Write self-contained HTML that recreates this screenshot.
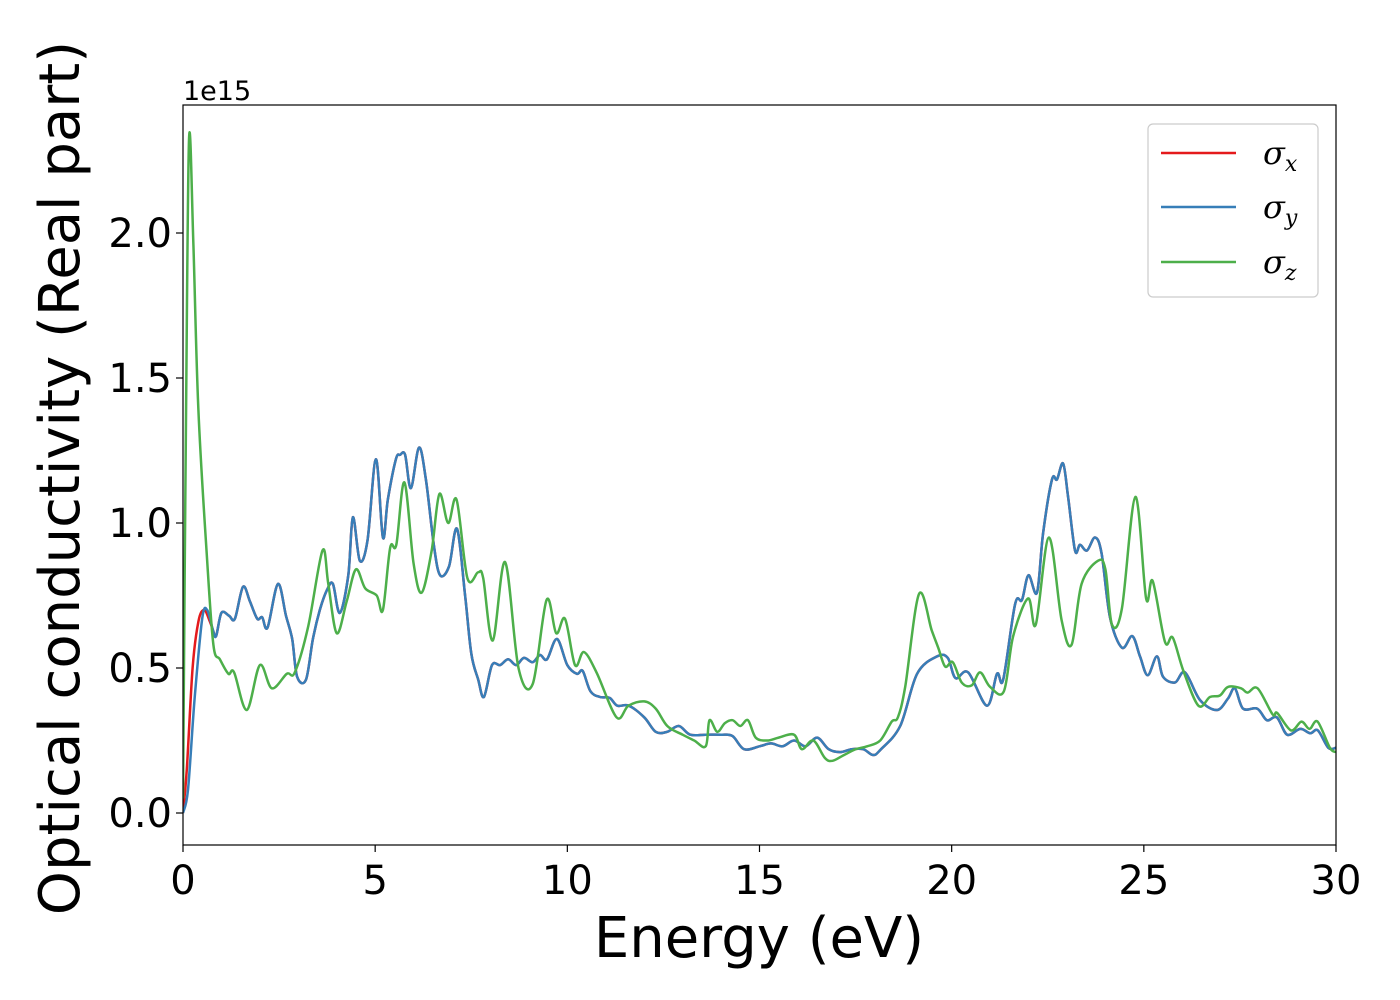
<!DOCTYPE html>
<html><head><meta charset="utf-8"><style>
body{margin:0;background:#fff;}
svg{display:block;font-family:"DejaVu Sans","Liberation Sans",sans-serif;}
</style></head><body>
<svg id="chart" width="1400" height="1000" viewBox="0 0 1400 1000">
<rect width="1400" height="1000" fill="#fff"/>
<g id="plot"></g>
<g id="axes"></g>
</svg>
<script>
const xTicks=[0,5,10,15,20,25,30];
const yTicks=[0.0,0.5,1.0,1.5,2.0];
const yTickLabels=["0.0","0.5","1.0","1.5","2.0"];
const blueE=[0,.13,.3,.5,.63,.78,.86,1.0,1.2,1.35,1.56,1.74,1.93,2.06,2.2,2.47,2.68,2.84,2.97,3.2,3.38,3.56,3.75,3.9,4.08,4.3,4.42,4.6,4.8,5.02,5.2,5.33,5.54,5.65,5.78,5.93,6.14,6.32,6.53,6.69,6.92,7.13,7.34,7.5,7.68,7.83,8.04,8.25,8.46,8.67,8.87,9.1,9.29,9.47,9.73,10.0,10.25,10.4,10.6,10.85,11.1,11.3,11.6,12.0,12.3,12.6,12.9,13.2,13.6,14.0,14.3,14.6,15.0,15.3,15.6,15.9,16.2,16.5,16.8,17.1,17.4,17.7,17.95,18.14,18.66,19.1,19.62,19.9,20.1,20.43,20.92,21.18,21.34,21.65,21.83,22.0,22.22,22.38,22.61,22.74,22.9,23.03,23.21,23.34,23.52,23.73,23.9,24.12,24.43,24.7,24.9,25.1,25.34,25.5,25.81,26.07,26.46,26.9,27.19,27.37,27.58,27.95,28.2,28.46,28.73,29.07,29.33,29.53,29.8,30];
const blueV=[0,.08,.39,.67,.70,.63,.61,.69,.68,.67,.78,.73,.67,.675,.64,.79,.68,.60,.47,.46,.60,.70,.77,.79,.69,.82,1.02,.87,.94,1.22,.95,1.08,1.22,1.235,1.235,1.12,1.26,1.15,.92,.82,.85,.98,.75,.55,.46,.40,.51,.51,.53,.51,.535,.52,.545,.53,.60,.51,.48,.49,.42,.40,.397,.37,.37,.33,.28,.28,.30,.27,.27,.27,.265,.22,.23,.24,.23,.25,.23,.26,.22,.21,.22,.22,.20,.217,.30,.48,.54,.535,.465,.485,.37,.48,.46,.72,.735,.82,.76,.965,1.15,1.15,1.205,1.09,.905,.925,.905,.95,.895,.675,.57,.61,.54,.475,.54,.47,.45,.485,.39,.355,.395,.43,.36,.36,.32,.33,.27,.29,.275,.285,.225,.225];
const redE=[0,.1,.25,.4,.55,.7];
const redV=[0,.15,.50,.66,.70,.66];
const greenE=[0,.08,.16,.27,.4,.62,.79,.96,1.18,1.33,1.66,2.0,2.31,2.7,2.91,3.26,3.63,3.78,4.0,4.26,4.5,4.74,5.04,5.2,5.39,5.55,5.76,6.0,6.21,6.47,6.67,6.9,7.12,7.4,7.68,7.81,8.06,8.38,8.73,9.1,9.46,9.71,9.94,10.2,10.43,10.76,11.28,11.59,12.0,12.3,12.6,13.0,13.3,13.6,13.7,13.9,14.1,14.3,14.5,14.7,14.9,15.2,15.5,15.9,16.1,16.4,16.7,16.9,17.2,17.5,17.8,18.14,18.44,18.6,18.79,19.15,19.48,19.65,19.83,20.03,20.26,20.52,20.74,21.0,21.36,21.6,21.99,22.19,22.53,22.86,23.12,23.38,23.81,24.0,24.17,24.43,24.78,25.06,25.23,25.55,25.75,26.03,26.42,26.72,26.98,27.19,27.53,27.7,27.96,28.35,28.47,28.83,29.1,29.31,29.52,29.84,30];
const greenV=[.05,1.4,2.33,1.96,1.39,.89,.58,.53,.48,.485,.355,.51,.43,.48,.485,.645,.905,.79,.62,.73,.84,.775,.75,.70,.915,.925,1.14,.86,.76,.905,1.1,1.0,1.08,.81,.83,.81,.595,.865,.50,.445,.735,.62,.67,.51,.555,.485,.33,.37,.385,.36,.30,.27,.25,.23,.32,.28,.31,.32,.30,.32,.26,.25,.26,.27,.22,.25,.19,.18,.20,.22,.23,.25,.315,.33,.435,.755,.63,.57,.505,.52,.45,.44,.485,.435,.42,.61,.74,.65,.95,.665,.58,.79,.87,.84,.65,.705,1.09,.74,.80,.59,.605,.49,.37,.40,.405,.435,.43,.415,.43,.34,.345,.285,.315,.29,.315,.225,.21];

const X0=183,X1=1336,Y0=105,Y1=845;
const sx=v=>X0+(v-0)/(30-0)*(X1-X0);
const sy=v=>813-v*290;
const NS="http://www.w3.org/2000/svg";
const plot=document.getElementById('plot'),axes=document.getElementById('axes');
function el(tag,attrs,parent){const e=document.createElementNS(NS,tag);for(const k in attrs)e.setAttribute(k,attrs[k]);parent.appendChild(e);return e;}
function pathFor(E,V){
  const p=E.map((e,i)=>[sx(e),sy(V[i])]);
  let d="M"+p[0][0].toFixed(1)+","+p[0][1].toFixed(1);
  for(let i=0;i<p.length-1;i++){
    const p0=p[Math.max(i-1,0)],p1=p[i],p2=p[i+1],p3=p[Math.min(i+2,p.length-1)];
    const c1=[p1[0]+(p2[0]-p0[0])/6,p1[1]+(p2[1]-p0[1])/6];
    const c2=[p2[0]-(p3[0]-p1[0])/6,p2[1]-(p3[1]-p1[1])/6];
    d+="C"+c1[0].toFixed(1)+","+c1[1].toFixed(1)+" "+c2[0].toFixed(1)+","+c2[1].toFixed(1)+" "+p2[0].toFixed(1)+","+p2[1].toFixed(1);
  }
  return d;
}
const cp=el('clipPath',{id:'clip'},plot);el('rect',{x:X0,y:Y0,width:X1-X0,height:Y1-Y0},cp);
const g=el('g',{'clip-path':'url(#clip)'},plot);
const redBlueE=redE.concat(blueE.filter(e=>e>0.7));
const redBlueV=redV.concat(blueV.filter((v,i)=>blueE[i]>0.7));
const pr=el('path',{d:pathFor(redBlueE,redBlueV),fill:'none',stroke:'#e41a1c','stroke-width':2.5},g);


const pb=el('path',{d:pathFor(blueE,blueV),fill:'none',stroke:'#377eb8','stroke-width':2.5},g);


const pg=el('path',{d:pathFor(greenE,greenV),fill:'none',stroke:'#4daf4a','stroke-width':2.5},g);



const frame=el('rect',{x:X0,y:Y0,width:X1-X0,height:Y1-Y0,fill:'none',stroke:'#000','stroke-width':1.2},axes);


xTicks.forEach(t=>{
  el('line',{x1:sx(t),x2:sx(t),y1:Y1,y2:Y1+7,stroke:'#000','stroke-width':1.2},axes);
  const tx=el('text',{x:sx(t),y:894,'font-size':40,'text-anchor':'middle'},axes);
  tx.textContent=String(t);
  
  
});
yTicks.forEach((t,i)=>{
  el('line',{x1:X0-7,x2:X0,y1:sy(t),y2:sy(t),stroke:'#000','stroke-width':1.2},axes);
  const tx=el('text',{x:172,y:sy(t)+14,'font-size':40,'text-anchor':'end'},axes);
  tx.textContent=yTickLabels[i];
  
  
});
</script>
<svg style="position:absolute;left:0;top:0" width="1400" height="1000">
<text x="183" y="100" font-size="27" font-family="DejaVu Sans, sans-serif">1e15</text>
<text x="759" y="957" font-size="56" text-anchor="middle" font-family="DejaVu Sans, sans-serif">Energy (eV)</text>
<text transform="translate(79,478) rotate(-90)" font-size="56" text-anchor="middle" font-family="DejaVu Sans, sans-serif">Optical conductivity (Real part)</text>
<g font-family="DejaVu Serif, serif" font-style="italic">
<rect x="1148" y="124" width="170" height="173" rx="5" fill="#fff" stroke="#ccc" stroke-width="1.2"/>
<g><line x1="1161" x2="1236" y1="153" y2="153" stroke="#e41a1c" stroke-width="2.5"/><text x="1263" y="164" font-size="32">σ<tspan font-size="22" dy="7">x</tspan></text></g>
<g><line x1="1161" x2="1236" y1="207" y2="207" stroke="#377eb8" stroke-width="2.5"/><text x="1263" y="218" font-size="32">σ<tspan font-size="22" dy="7">y</tspan></text></g>
<g><line x1="1161" x2="1236" y1="262" y2="262" stroke="#4daf4a" stroke-width="2.5"/><text x="1263" y="273" font-size="32">σ<tspan font-size="22" dy="7">z</tspan></text></g>
</g>
</svg>
</body></html>
